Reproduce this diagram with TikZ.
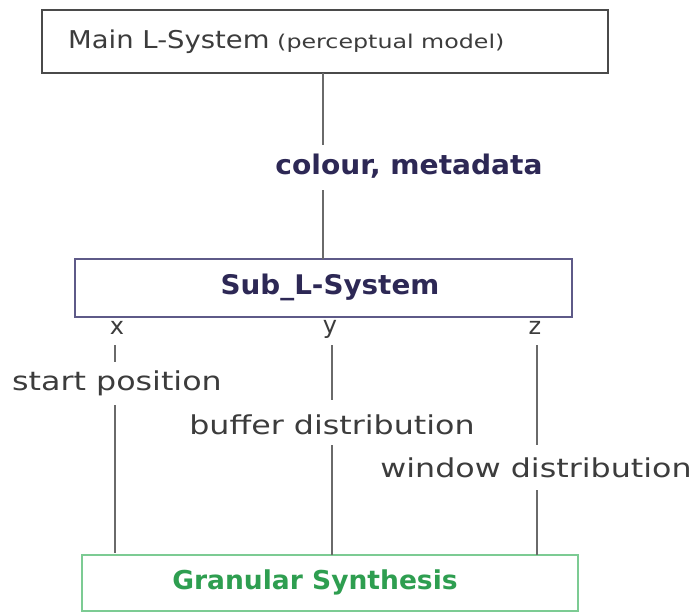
\documentclass[tikz,border=0pt]{standalone}
\usepackage{fontspec}
\setmainfont{DejaVu Sans}
\definecolor{navy}{HTML}{2D2855}
\definecolor{navyframe}{HTML}{5E5A88}
\definecolor{linegray}{HTML}{6A6A6A}
\definecolor{boxgray}{HTML}{4A4A4A}
\definecolor{txtgray}{HTML}{3C3C3C}
\definecolor{gsgreen}{HTML}{2E9E50}
\definecolor{gsframe}{HTML}{7CCB93}
\newcommand{\stretchx}[2]{\scalebox{#1}[1]{#2}}
\tikzset{
  px/.style={x=1pt,y=-1pt},
  conn/.style={draw=linegray,line width=1.6pt},
  lbl/.style={inner sep=0pt,text=txtgray,font=\fontsize{26}{28}\selectfont},
  axis/.style={inner sep=0pt,text=txtgray,font=\fontsize{24}{26}\selectfont},
  boldtxt/.style={inner sep=0pt,font=\bfseries\fontsize{27}{29}\selectfont},
}
\begin{document}
\begin{tikzpicture}[px]
\useasboundingbox (0,0) rectangle (698,613);
\fill[white] (0,0) rectangle (698,613);
% boxes
\draw[boxgray,line width=1.6pt] (42,10) rectangle (608,73);
\node[anchor=west,inner sep=0pt,text=txtgray] (main) at (68,42)
  {\fontsize{24.5}{27}\selectfont\stretchx{1.12}{Main L-System} \fontsize{19}{21}\selectfont\stretchx{1.25}{(perceptual model)}};
\coordinate (mainb) at (323,73);
\draw[navyframe,line width=1.6pt] (75,259) rectangle (572,317);
\node[boldtxt,text=navy] (sub) at (330,287) {\stretchx{1.03}{Sub\_L-System}};
\coordinate (subt) at (323,259);
\draw[gsframe,line width=1.6pt] (82,555) rectangle (578,611);
\node[boldtxt,text=gsgreen,font=\bfseries\fontsize{26}{28}\selectfont] (gs) at (315,582) {\stretchx{1.02}{Granular Synthesis}};
% top link
\node[boldtxt,text=navy] (meta) at (409,166) {\stretchx{1.04}{colour, metadata}};
\coordinate (m1) at (323,145);
\coordinate (m2) at (323,190);
\draw[conn] (mainb) -- (m1);
\draw[conn] (m2) -- (subt);
% axis letters
\node[axis] (ax) at (117,328) {x};
\node[axis] (ay) at (330,329) {y};
\node[axis] (az) at (535,328) {z};
% parameter labels
\node[lbl] (sp) at (117,383) {\stretchx{1.22}{start position}};
\node[lbl] (bd) at (332,425) {\stretchx{1.22}{buffer distribution}};
\node[lbl] (wdist) at (536,468) {\stretchx{1.22}{window distribution}};
\coordinate (x1) at (115,345); \coordinate (x2) at (115,362);
\coordinate (x3) at (115,405); \coordinate (x4) at (115,553);
\coordinate (y1) at (332,345); \coordinate (y2) at (332,400);
\coordinate (y3) at (332,445); \coordinate (y4) at (332,555);
\coordinate (z1) at (537,345); \coordinate (z2) at (537,445);
\coordinate (z3) at (537,490); \coordinate (z4) at (537,555);
\draw[conn] (x1) -- (x2);
\draw[conn] (x3) -- (x4);
\draw[conn] (y1) -- (y2);
\draw[conn] (y3) -- (y4);
\draw[conn] (z1) -- (z2);
\draw[conn] (z3) -- (z4);
\end{tikzpicture}
\end{document}
